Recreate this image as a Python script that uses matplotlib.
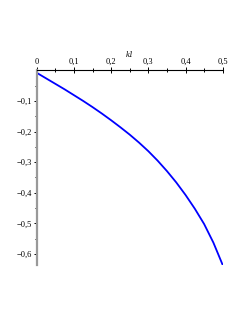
import numpy as np
import matplotlib.pyplot as plt
from matplotlib.ticker import MultipleLocator, FixedLocator, FuncFormatter

# values
k1 = [0.0, 0.025, 0.05, 0.075, 0.1, 0.125, 0.15, 0.175, 0.2, 0.225, 0.25,
      0.275, 0.3, 0.325, 0.35, 0.375, 0.4, 0.425, 0.45, 0.475, 0.5]
val = [-0.008, -0.026, -0.044, -0.062, -0.081, -0.100, -0.120, -0.141, -0.163,
       -0.186, -0.210, -0.236, -0.264, -0.295, -0.329, -0.366, -0.407, -0.452,
       -0.502, -0.563, -0.636]
yticks = [-0.1, -0.2, -0.3, -0.4, -0.5, -0.6]

plt.rcParams['font.family'] = ['Liberation Serif', 'DejaVu Serif']

fig = plt.figure(figsize=(2.45, 3.17), dpi=100)
ax = fig.add_axes([0.150, 0.164, 0.759, 0.614])

ax.plot(k1, val, color='#0000ff', lw=1.3)

for s in ['right', 'bottom']:
    ax.spines[s].set_visible(False)
ax.spines['top'].set_color('black')
ax.spines['top'].set_linewidth(0.8)
ax.spines['left'].set_color('#999999')
ax.spines['left'].set_linewidth(1.6)

ax.xaxis.tick_top()
ax.xaxis.set_label_position('top')
ax.xaxis.set_major_locator(MultipleLocator(0.1))
ax.xaxis.set_minor_locator(MultipleLocator(0.05))
ax.yaxis.set_major_locator(FixedLocator(yticks))
ax.yaxis.set_minor_locator(FixedLocator([-0.05, -0.15, -0.25, -0.35, -0.45, -0.55]))

comma = FuncFormatter(lambda v, p: ('%g' % round(v, 2)).replace('.', ',').replace('-', '\u2212') if abs(v) > 1e-9 else '0')
ax.xaxis.set_major_formatter(comma)
ax.yaxis.set_major_formatter(comma)

ax.set_xlim(0, 0.5)
ax.set_ylim(-0.636, 0)

ax.tick_params(axis='x', which='major', direction='inout', length=4, width=0.7,
               labelsize=6, pad=1)
ax.tick_params(axis='x', which='minor', direction='inout', length=2.5, width=0.7)
ax.tick_params(axis='y', which='major', direction='out', length=2.5, width=0.7,
               labelsize=6, pad=1)
ax.tick_params(axis='y', which='minor', direction='out', length=1.5, width=0.7)

ax.set_xlabel('k1', fontsize=6, style='italic', labelpad=1)

fig.savefig('out.png', dpi=100)
